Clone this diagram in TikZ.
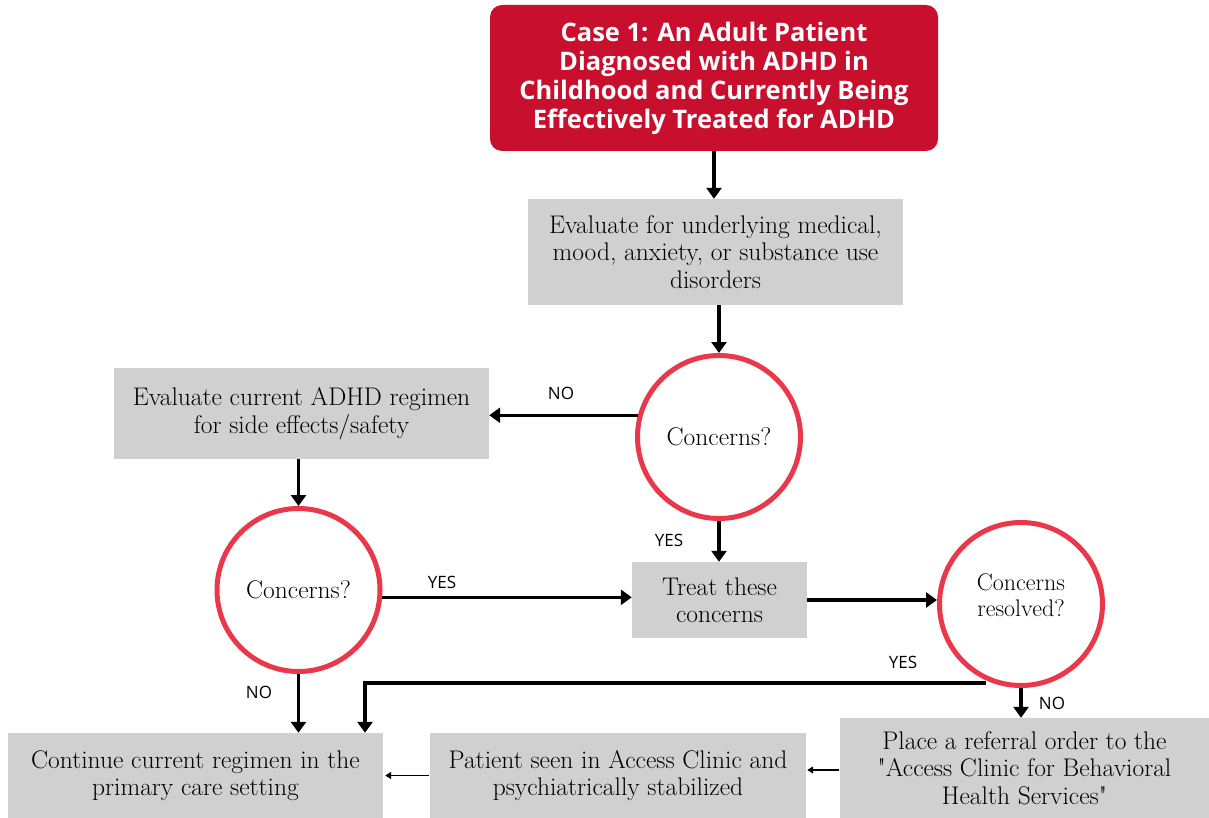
\documentclass[tikz,border=0pt]{standalone}
\usepackage{fontspec}
\newfontfamily\labfont{Open Sans}
\usetikzlibrary{arrows.meta}
\definecolor{titlered}{HTML}{C8102E}
\definecolor{circred}{HTML}{E8384A}
\definecolor{boxgray}{HTML}{D0D0D0}
\begin{document}
\begin{tikzpicture}[x=1pt,y=-1pt,
  titlebox/.style={fill=titlered, rounded corners=12pt, text=white, align=center, inner sep=0pt,
    font=\labfont\bfseries\fontsize{25.5}{29}\selectfont},
  graybox/.style={fill=boxgray, align=center, inner sep=0pt,
    font=\fontsize{25.5}{27.5}\selectfont},
  decision/.style={circle, draw=circred, line width=5pt, align=center, inner sep=0pt,
    minimum size=163pt, font=\fontsize{25.5}{26}\selectfont},
  arr/.style={line width=3.5pt, -{Triangle[length=11pt,width=15pt]}},
  thinarr/.style={line width=1.3pt, -{Triangle[length=6pt,width=7pt]}},
  lab/.style={font=\labfont\fontsize{17}{20}\selectfont, inner sep=0pt}]
\useasboundingbox (0,0) rectangle (1209,818);
\node[titlebox, minimum width=448pt, minimum height=146pt] (t) at (714,78)
  {Case 1: An Adult Patient\\Diagnosed with ADHD in\\Childhood and Currently Being\\Effectively Treated for ADHD};
\node[graybox, minimum width=375pt, minimum height=106pt] (b1) at (715.5,252)
  {Evaluate for underlying medical,\\mood, anxiety, or substance use\\disorders};
\node[decision] (c1) at (719,437) {Concerns?};
\node[graybox, minimum width=375pt, minimum height=91pt] (b2) at (301.5,413.5)
  {Evaluate current ADHD regimen\\for side effects/safety};
\node[decision] (c2) at (298.5,590) {Concerns?};
\node[graybox, minimum width=175pt, minimum height=76pt] (b3) at (719.5,600)
  {Treat these\\concerns};
\node[decision] (c3) at (1021,604) {};
\node[align=center, inner sep=0pt, font=\fontsize{24}{26}\selectfont] (c3t) at (1021,595) {Concerns\\resolved?};
\node[graybox, minimum width=375pt, minimum height=85pt] (b4) at (195.5,775.5)
  {Continue current regimen in the\\primary care setting};
\node[graybox, minimum width=376pt, minimum height=85pt] (b5) at (618,775.5)
  {Patient seen in Access Clinic and\\psychiatrically stabilized};
\node[graybox, minimum width=369pt, minimum height=100pt] (b6) at (1024.5,768)
  {Place a referral order to the\\\textquotedbl Access Clinic for Behavioral\\Health Services\textquotedbl};
\coordinate (yk) at (365,683);
\draw[arr] (t.south) -- (t.south |- b1.north);
\draw[arr] (b1.south -| c1) -- (c1.north);
\draw[arr] (c1.165) -- (c1.165 -| b2.east);
\draw[arr] (b2.south -| c2) -- (c2.north);
\draw[arr] (c1.south) -- (c1.south |- b3.north);
\draw[arr] (c2.355) -- (c2.355 -| b3.west);
\draw[arr] (b3.east) -- (b3.east -| c3.west);
\draw[arr] (yk -| c3.245) -- (yk) -- (yk |- b4.north);
\draw[arr] (c3.south) -- (c3.south |- b6.north);
\draw[arr] (c2.south) -- (c2.south |- b4.north);
\draw[thinarr] ([xshift=-1pt]b5.west) -- ([xshift=2pt]b4.east);
\draw[thinarr] ([xshift=-1pt]b6.west |- 0,770) -- ([xshift=1pt]b5.east |- 0,770);
\node[lab] (l1) at (561,393) {NO};
\node[lab] (l2) at (669,540) {YES};
\node[lab] (l3) at (442,582) {YES};
\node[lab] (l4) at (903,662) {YES};
\node[lab] (l5) at (1052,703) {NO};
\node[lab] (l6) at (259,692) {NO};
\end{tikzpicture}
\end{document}
